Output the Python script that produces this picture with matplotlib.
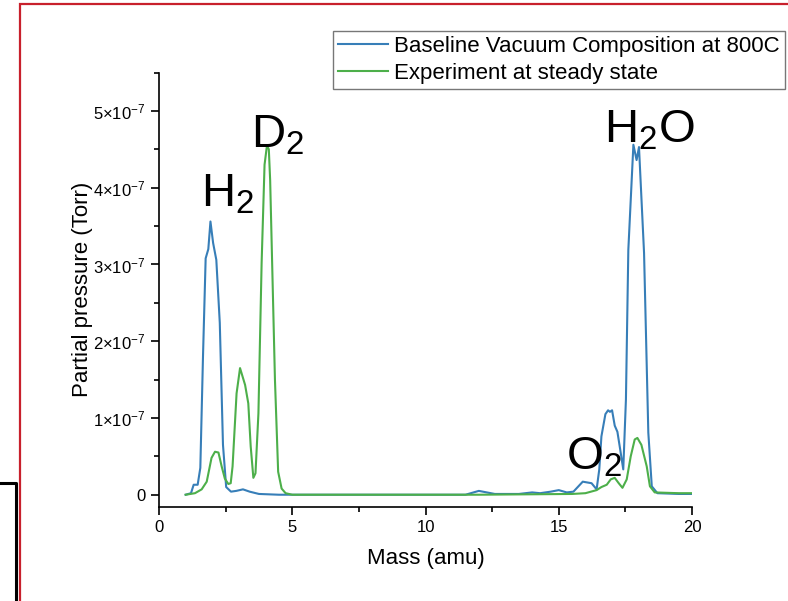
import numpy as np
import matplotlib
matplotlib.use("Agg")
import matplotlib.pyplot as plt
from matplotlib.patches import Rectangle
from matplotlib.lines import Line2D

plt.rcParams["font.family"] = ["Liberation Sans", "DejaVu Sans"]
plt.rcParams["mathtext.fontset"] = "custom"
plt.rcParams["mathtext.rm"] = "Liberation Sans"
plt.rcParams["mathtext.it"] = "Liberation Sans:italic"
plt.rcParams["mathtext.bf"] = "Liberation Sans:bold"

# mass (amu) and partial pressure (units of 1e-7 Torr)
base_mass = [1.0, 1.2, 1.3, 1.45, 1.55, 1.65, 1.75, 1.85, 1.93, 2.03, 2.15, 2.28,
             2.4, 2.52, 2.7, 2.9, 3.15, 3.4, 3.75, 4.5, 6.0, 8.0, 10.0, 11.5,
             12.0, 12.3, 12.6, 13.5, 14.0, 14.3, 14.7, 15.0, 15.3, 15.55, 15.9,
             16.23, 16.42, 16.52, 16.6, 16.75, 16.85, 16.92, 17.0, 17.1, 17.2,
             17.3, 17.42, 17.52, 17.61, 17.8, 17.92, 18.01, 18.2, 18.36, 18.49,
             18.7, 19.5, 20.0]
base_p = [0.0, 0.02, 0.13, 0.13, 0.35, 1.8, 3.08, 3.2, 3.56, 3.28, 3.06, 2.24,
          0.65, 0.1, 0.04, 0.05, 0.07, 0.04, 0.01, 0.0, 0.0, 0.0, 0.0, 0.0,
          0.05, 0.03, 0.01, 0.01, 0.03, 0.02, 0.04, 0.06, 0.03, 0.04, 0.17,
          0.15, 0.07, 0.33, 0.76, 1.05, 1.1, 1.08, 1.1, 0.9, 0.82,
          0.6, 0.33, 1.24, 3.19, 4.56, 4.36, 4.53, 3.15, 0.81, 0.11,
          0.02, 0.01, 0.01]

exp_mass = [1.0, 1.35, 1.6, 1.79, 1.97, 2.1, 2.23, 2.35, 2.47, 2.6, 2.69, 2.76,
            2.91, 3.04, 3.23, 3.35, 3.44, 3.54, 3.62, 3.73, 3.85, 3.96, 4.05,
            4.12, 4.17, 4.26, 4.35, 4.47, 4.6, 4.75, 5.0, 8.0, 12.0, 15.5, 16.0,
            16.42, 16.6, 16.8, 16.95, 17.1, 17.25, 17.39, 17.55, 17.7, 17.85,
            17.95, 18.1, 18.3, 18.42, 18.6, 19.5, 20.0]
exp_p = [0.0, 0.02, 0.07, 0.17, 0.48, 0.56, 0.55, 0.37, 0.21, 0.14, 0.15, 0.37,
         1.32, 1.65, 1.43, 1.19, 0.63, 0.22, 0.28, 1.06, 3.02, 4.3, 4.55,
         4.5, 4.1, 2.8, 1.5, 0.3, 0.08, 0.02, 0.0, 0.0, 0.0, 0.01, 0.02,
         0.06, 0.1, 0.13, 0.2, 0.22, 0.15, 0.09, 0.2, 0.5, 0.72,
         0.74, 0.65, 0.37, 0.11, 0.03, 0.02, 0.02]

series_labels = ["Baseline Vacuum Composition at 800C", "Experiment at steady state"]
y_ticks = [0, 1e-7, 2e-7, 3e-7, 4e-7, 5e-7]
y_tick_labels = ["0", r"$1{\times}10^{-7}$", r"$2{\times}10^{-7}$",
                 r"$3{\times}10^{-7}$", r"$4{\times}10^{-7}$", r"$5{\times}10^{-7}$"]
x_ticks = [0, 5, 10, 15, 20]

# peak labels: (text, mass, pressure at baseline of label)
peak_labels = [
    (r"$\mathrm{H_2}$", 1.58, 3.75e-7),
    (r"$\mathrm{D_2}$", 3.47, 4.53e-7),
    (r"$\mathrm{H_2O}$", 16.70, 4.59e-7),
    (r"$\mathrm{O_2}$", 15.27, 0.33e-7),
]

fig = plt.figure(figsize=(7.88, 6.01), dpi=100)
ax = fig.add_axes([0.2018, 0.1564, 0.6764, 0.7228])

blue = "#377eb8"
green = "#4daf4a"
ax.plot(base_mass, np.array(base_p) * 1e-7, color=blue, lw=1.5, label=series_labels[0])
ax.plot(exp_mass, np.array(exp_p) * 1e-7, color=green, lw=1.5, label=series_labels[1])

ax.set_xlim(0, 20)
ax.set_ylim(-0.16e-7, 5.5e-7)
ax.set_xticks(x_ticks)
ax.set_xticks(np.arange(0, 20.1, 2.5), minor=True)
ax.set_yticks(y_ticks)
ax.set_yticklabels(y_tick_labels)
ax.set_yticks(np.arange(0, 5.51e-7, 0.5e-7), minor=True)
ax.tick_params(which="major", direction="out", length=6, width=1.2, labelsize=12, colors="black")
ax.tick_params(which="minor", direction="out", length=3.5, width=1.2)
for s in ["top", "right"]:
    ax.spines[s].set_visible(False)
for s in ["left", "bottom"]:
    ax.spines[s].set_linewidth(1.2)

ax.set_xlabel("Mass (amu)", fontsize=16, labelpad=9)
ax.set_ylabel("Partial pressure (Torr)", fontsize=16, labelpad=0)

for txt, mx, py in peak_labels:
    ax.text(mx, py, txt, fontsize=34, ha="left", va="baseline")

leg = fig.legend(loc="upper left", bbox_to_anchor=(0.4226, 0.9484), fontsize=16,
                 frameon=True, fancybox=False, borderpad=0.22, handlelength=2.25,
                 handletextpad=0.28, labelspacing=0.28, borderaxespad=0)
leg.get_frame().set_edgecolor("#555555")
leg.get_frame().set_linewidth(1.0)

# red frame and black box around the figure
fig.patches.append(Rectangle((20 / 788, -0.1), 1.2, 0.1 + (601 - 4) / 601,
                             transform=fig.transFigure, fill=False,
                             edgecolor="#c8202c", lw=1.6))
fig.lines.append(Line2D([-0.01, 16 / 788, 16 / 788], [(601 - 483) / 601, (601 - 483) / 601, -0.01],
                        transform=fig.transFigure, color="black", lw=2.2))

fig.savefig("out.png", dpi=100)
